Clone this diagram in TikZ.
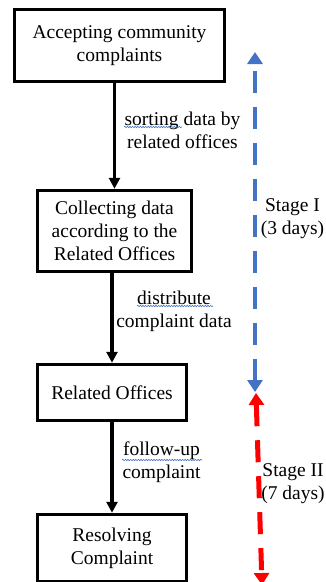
\documentclass[tikz,border=0pt]{standalone}
\usepackage{fontspec}
\setmainfont{Liberation Serif}
\usetikzlibrary{arrows.meta, decorations.pathmorphing}
\definecolor{stageblue}{RGB}{68,114,196}

\begin{document}
\begin{tikzpicture}[x=1pt, y=-1pt,
	box/.style={draw, line width=3.5pt, align=center, inner sep=0pt, font=\fontsize{19.5}{23}\selectfont},
	txt/.style={align=center, inner sep=0pt, font=\fontsize{19.5}{23}\selectfont},
	flow/.style={line width=3.2pt, -{Triangle[width=11pt, length=11pt]}},
	stagearrow/.style={line width=#1, dash pattern=on 22pt off 14pt, {Triangle[width=15pt, length=12pt]}-{Triangle[width=15pt, length=12pt]}},
	spell/.style={stageblue, line width=0.6pt, decorate, decoration={snake, amplitude=0.7pt, segment length=2.6pt}}]
	\useasboundingbox (0,0) rectangle (325,582);
	\node [box, minimum width=210pt, minimum height=72pt] (accept) at (119.5,45.5) {Accepting community\\complaints};
	\node [box, minimum width=154pt, minimum height=81pt] (collect) at (114.5,231) {Collecting data\\according to the\\Related Offices};
	\node [box, minimum width=149pt, minimum height=56pt] (offices) at (112,392.5) {Related Offices};
	\node [box, minimum width=149pt, minimum height=67pt] (resolve) at (112,548) {Resolving\\Complaint};
	\draw [flow] (collect.north |- accept.south) -- (collect.north);
	\draw [flow] (offices.north |- collect.south) -- (offices.north);
	\draw [flow] (offices.south) -- (resolve.north);
	\node [txt] (sorting) at (182.5,130) {sorting data by\\related offices};
	\node [txt] (distribute) at (174,311) {distribute\\complaint data};
	\node [txt] (followup) at (161.5,462) {follow-up\\complaint};
	\draw [spell] (124,127) -- (182,127);
	\draw [spell] (137,306) -- (213,306);
	\draw [spell] (122,460) -- (202,460);
	\coordinate (s1top) at (255,52);
	\coordinate (s1bot) at (255,392);
	\coordinate (s2top) at (256,393);
	\coordinate (s2bot) at (262,585);
	\draw [stagearrow=4pt, stageblue] (s1bot) -- (s1top);
	\draw [stagearrow=5pt, red] (s2top) -- (s2bot);
	\node [txt] (stageone) at (292.5,219) {Stage I\\(3 days)};
	\node [txt] (stagetwo) at (293,484) {Stage II\\(7 days)};
\end{tikzpicture}
\end{document}
